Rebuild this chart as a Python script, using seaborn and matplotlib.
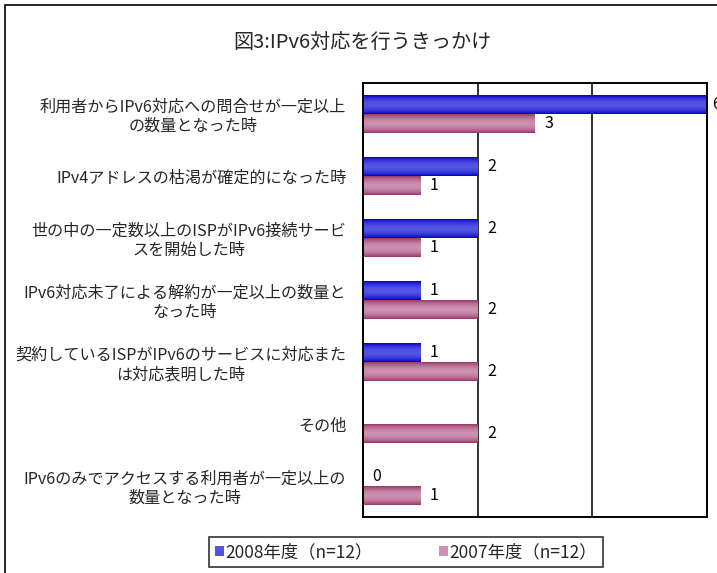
import numpy as np
import pandas as pd
import matplotlib
matplotlib.use("Agg")
import matplotlib.pyplot as plt
import seaborn as sns
from matplotlib.patches import Patch, Rectangle
from matplotlib.colors import to_rgb

# ---- data -------------------------------------------------------------
categories = [
    "利用者からIPv6対応への問合せが一定以上\nの数量となった時",
    "IPv4アドレスの枯渇が確定的になった時",
    "世の中の一定数以上のISPがIPv6接続サービ\nスを開始した時",
    "IPv6対応未了による解約が一定以上の数量と\nなった時",
    "契約しているISPがIPv6のサービスに対応また\nは対応表明した時",
    "その他",
    "IPv6のみでアクセスする利用者が一定以上の\n数量となった時",
]
values_2008 = [6, 2, 2, 1, 1, np.nan, 0]
values_2007 = [3, 1, 1, 2, 2, 2, 1]
series_names = ["2008年度（n=12）", "2007年度（n=12）"]
title = "図3:IPv6対応を行うきっかけ"

# ---- style ------------------------------------------------------------
sns.set_style("white")
plt.rcParams["font.family"] = ["Noto Sans CJK JP", "DejaVu Sans"]

blue_edge, blue_mid = "#0000c8", "#5454e4"
pink_edge, pink_mid = "#993366", "#cc90b0"
palette = [blue_edge, pink_edge]

df = pd.DataFrame({
    "category": categories * 2,
    "value": values_2008 + values_2007,
    "series": [series_names[0]] * len(categories) + [series_names[1]] * len(categories),
})

W, H = 717, 573
fig = plt.figure(figsize=(W / 100, H / 100), dpi=100)
ax = fig.add_axes([363 / W, 1 - 517 / H, (707 - 363) / W, (517 - 83) / H])

sns.barplot(
    data=df, y="category", x="value", hue="series", orient="h",
    order=categories, hue_order=series_names, palette=palette,
    width=0.6, errorbar=None, ax=ax, legend=False, linewidth=0,
    saturation=1,
)

XMAX = 6

# shaded fill across each bar's thickness (dark edges, light centre)
def shade(patch, edge, mid):
    x0, y0 = patch.get_x(), patch.get_y()
    w, h = patch.get_width(), patch.get_height()
    if w <= 0:
        return
    t = np.linspace(0, 1, 64)
    k = np.sin(np.pi * t) ** 0.8
    e, m = np.array(to_rgb(edge)), np.array(to_rgb(mid))
    cols = e[None, :] + (m - e)[None, :] * k[:, None]
    img = np.repeat(cols[:, None, :], 2, axis=1)
    im = ax.imshow(img, extent=(x0, x0 + w, y0 + h, y0), aspect="auto",
                   interpolation="bilinear", zorder=patch.get_zorder() + 0.1)
    im.set_clip_path(patch)

for cont, (edge, mid) in zip(ax.containers, [(blue_edge, blue_mid), (pink_edge, pink_mid)]):
    for p in cont.patches:
        shade(p, edge, mid)
    texts = ax.bar_label(cont, fmt="%d", padding=7, fontsize=11.5,
                         color="black", clip_on=False)
    # a label on a full-length bar sits tight against the frame
    for p, t in zip(cont.patches, texts):
        if p.get_width() >= XMAX:
            t.xyann = (3.5, t.xyann[1])

ax.set_xlim(0, XMAX)
ax.set_ylim(len(categories) - 0.5, -0.5)
ax.set_xticks([0, 2, 4, 6])
ax.set_xticklabels([])
ax.tick_params(axis="x", length=0)
ax.xaxis.grid(True, color="#222222", linewidth=1.3)
ax.set_axisbelow(True)
ax.set_xlabel("")
ax.set_ylabel("")

ax.set_yticks(np.arange(len(categories)))
ax.set_yticklabels(categories, fontsize=11.6)
for lab in ax.get_yticklabels():
    lab.set_multialignment("center")
    lab.set_linespacing(1.15)
ax.tick_params(axis="y", which="major", length=0, pad=12)
ax.set_yticks(np.arange(len(categories) + 1) - 0.5, minor=True)
ax.tick_params(axis="y", which="minor", length=5, direction="in",
               width=1.2, color="black")

for s in ax.spines.values():
    s.set_visible(True)
    s.set_color("black")
    s.set_linewidth(1.4)

fig.text(362 / W, 1 - 43 / H, title, ha="center", va="center", fontsize=14.5)

handles = [Patch(facecolor=c, edgecolor="none") for c in (blue_mid, pink_mid)]
leg = fig.legend(handles, series_names, loc="center",
                 bbox_to_anchor=(406 / W, 1 - 552 / H), ncol=2, fontsize=12.5,
                 frameon=True, fancybox=False, edgecolor="black",
                 handlelength=0.5, handleheight=0.5, handletextpad=0.1,
                 columnspacing=3.8, borderpad=0.35)
leg.get_frame().set_linewidth(1.2)

# outer chart frame
fig.patches.append(Rectangle((5 / W, -0.05), 1.2, 1 - 5 / H + 0.05,
                             transform=fig.transFigure, fill=False,
                             edgecolor="black", linewidth=1.2))

fig.savefig("out.png", dpi=100, facecolor="white")
